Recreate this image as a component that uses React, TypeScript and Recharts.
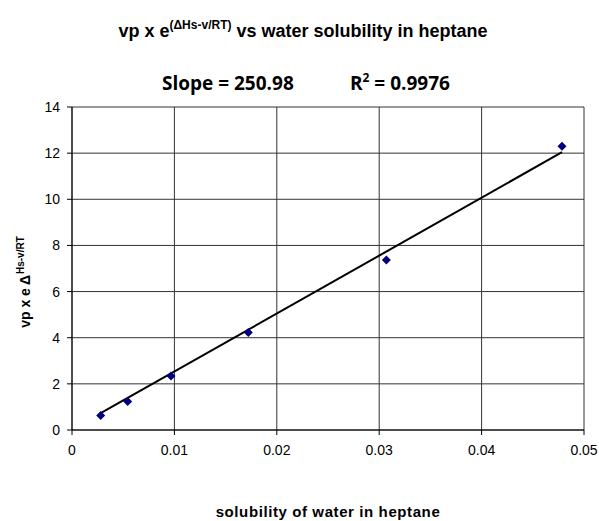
import React from "react";
import { ScatterChart, Scatter, XAxis, YAxis, CartesianGrid } from "recharts";

const solubility = [0.0028, 0.00544, 0.00967, 0.01722, 0.0307, 0.04785];
const vpTerm = [0.63, 1.23, 2.34, 4.23, 7.37, 12.3];
const trendX = [0.0028, 0.04785];
const trendY = [0.73, 12.04];
const xTicks = [0, 0.01, 0.02, 0.03, 0.04, 0.05];
const yTicks = [0, 2, 4, 6, 8, 10, 12, 14];

const points = solubility.map((x, i) => ({ x, y: vpTerm[i] }));
const trend = trendX.map((x, i) => ({ x, y: trendY[i] }));

const font = "'Liberation Sans', Arial, sans-serif";

const Diamond = (props: any) => {
  const { cx, cy } = props;
  if (cx == null || cy == null) return null;
  const r = 4.5;
  return (
    <polygon
      points={`${cx},${cy - r} ${cx + r},${cy} ${cx},${cy + r} ${cx - r},${cy}`}
      fill="#000080"
    />
  );
};

const App: React.FC = () => {
  return (
    <div style={{ position: "absolute", left: 0, top: 0, background: "#fff" }}>
      <ScatterChart
        width={599}
        height={521}
        margin={{ top: 107, right: 15, bottom: 61, left: 30 }}
      >
        <text x={303} y={37} textAnchor="middle" fontFamily={font} fontWeight="bold" fontSize={18} fill="#000">
          vp x e
          <tspan dy={-8} fontSize={12}>(ΔHs-v/RT)</tspan>
          <tspan dy={8}> vs water solubility in heptane</tspan>
        </text>
        <text x={162} y={90} fontFamily="'Open Sans', sans-serif" fontWeight="bold" fontSize={19} fill="#000">
          Slope = 250.98
          <tspan x={350}>R</tspan>
          <tspan dy={-8} fontSize={12}>2</tspan>
          <tspan dy={8}> = 0.9976</tspan>
        </text>
        <text
          x={328}
          y={517}
          textAnchor="middle"
          fontFamily={font}
          fontWeight="bold"
          fontSize={15}
          letterSpacing={0.6}
          fill="#000"
        >
          solubility of water in heptane
        </text>
        <text
          x={30}
          y={282}
          textAnchor="middle"
          transform="rotate(-90 30 282)"
          fontFamily={font}
          fontWeight="bold"
          fontSize={14}
          fill="#000"
        >
          vp x e
          <tspan dx={3}>Δ</tspan>
          <tspan dx={1} dy={-6} fontSize={10}>Hs-v/RT</tspan>
        </text>
        <CartesianGrid stroke="#333" strokeWidth={1} />
        <XAxis
          type="number"
          dataKey="x"
          domain={[0, 0.05]}
          ticks={xTicks}
          interval={0}
          axisLine={{ stroke: "#000" }}
          tickLine={{ stroke: "#000" }}
          tickSize={5}
          tickMargin={10}
          tick={{ fill: "#000", fontSize: 14, fontFamily: font }}
        />
        <YAxis
          type="number"
          dataKey="y"
          domain={[0, 14]}
          ticks={yTicks}
          interval={0}
          width={42}
          axisLine={{ stroke: "#000" }}
          tickLine={{ stroke: "#000" }}
          tickSize={5}
          tickMargin={7}
          tick={{ fill: "#000", fontSize: 14, fontFamily: font }}
        />
        <Scatter
          data={trend}
          line={{ stroke: "#000", strokeWidth: 2 }}
          shape={() => null}
          isAnimationActive={false}
        />
        <Scatter data={points} shape={<Diamond />} isAnimationActive={false} />
      </ScatterChart>
    </div>
  );
};

export default App;
